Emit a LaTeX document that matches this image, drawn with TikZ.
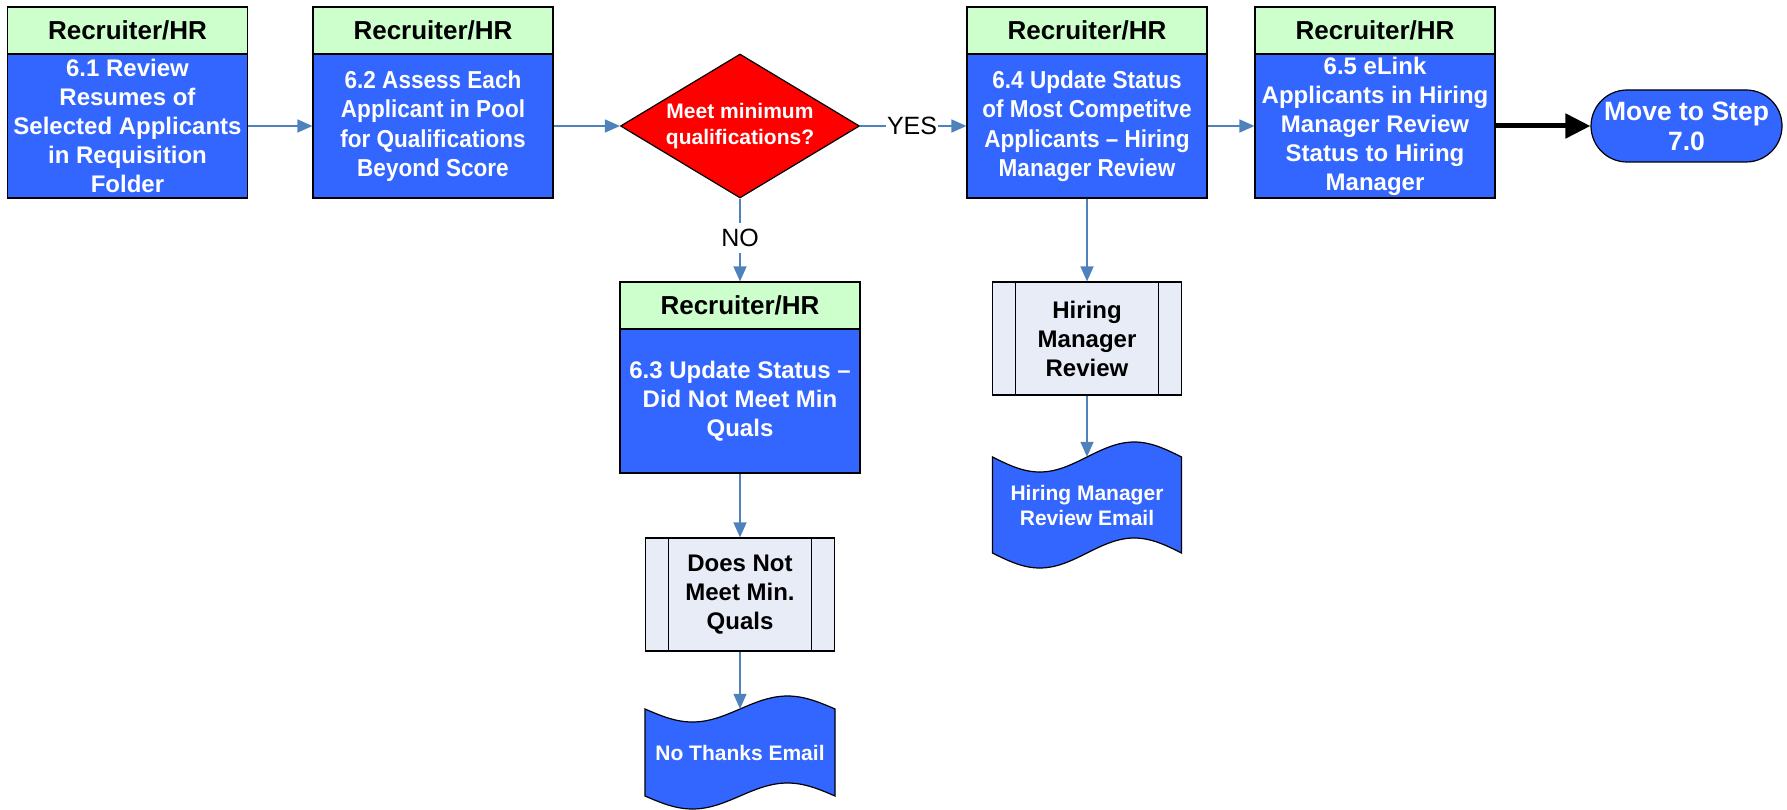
\documentclass[tikz,border=0pt]{standalone}
\usepackage{fontspec}
\setmainfont{Liberation Sans}
\newfontfamily\narrowsans{Liberation Sans}[FakeStretch=0.92, Ligatures=TeX]
\usetikzlibrary{shapes.geometric,arrows.meta}

\definecolor{hrgreen}{HTML}{CCFFCC}
\definecolor{taskblue}{HTML}{3366FF}
\definecolor{linkblue}{HTML}{4F81BD}
\definecolor{subgrey}{HTML}{E7ECF7}

\begin{document}
\begin{tikzpicture}[x=1pt, y=-1pt,
    role/.style={draw, line width=1.2pt, fill=hrgreen, minimum width=240pt,
      minimum height=47pt, inner sep=0pt, font=\fontsize{26}{30}\selectfont\bfseries},
    task/.style={draw, line width=1.2pt, fill=taskblue, text=white, minimum width=240pt,
      minimum height=144pt, inner sep=0pt, align=center,
      font=\fontsize{24}{29}\selectfont\bfseries},
    narrowtask/.style={task, font=\narrowsans\fontsize{24.5}{29.5}\selectfont\bfseries},
    query/.style={diamond, draw, line width=1.2pt, fill=red, text=white, aspect=1.66,
      minimum width=239pt, minimum height=144pt, inner sep=0pt, align=center,
      font=\fontsize{21}{26}\selectfont\bfseries},
    answer/.style={inner xsep=1pt, inner ysep=6pt, font=\fontsize{25}{28}\selectfont},
    subproc/.style={draw, line width=1.2pt, fill=subgrey, minimum width=189pt,
      minimum height=113pt, inner sep=0pt, align=center,
      font=\fontsize{24}{29}\selectfont\bfseries,
      path picture={
        \draw ([xshift=23pt]path picture bounding box.north west)
          -- ([xshift=23pt]path picture bounding box.south west);
        \draw ([xshift=-23pt]path picture bounding box.north east)
          -- ([xshift=-23pt]path picture bounding box.south east);}},
    mailshape/.style={draw, line width=1.2pt, fill=taskblue},
    mailtext/.style={text=white, minimum width=189pt, inner sep=0pt, align=center,
      font=\fontsize{21}{25}\selectfont\bfseries},
    endstep/.style={draw, line width=1.2pt, fill=taskblue, text=white, rounded corners=36pt,
      minimum width=191pt, minimum height=72pt, inner sep=0pt, align=center,
      font=\fontsize{26.5}{30}\selectfont\bfseries},
    line/.style={draw=linkblue, line width=1.5pt},
    link/.style={line, -{Triangle[length=15pt,width=13pt]}},
    exitlink/.style={draw=black, line width=5pt, -{Triangle[length=25pt,width=24pt]}}]

  \useasboundingbox (0,0) rectangle (1787,810);

  \node[role] (r61) at (127.5,30.5) {Recruiter/HR};
  \node[task] (t61) at (127.5,126) {6.1 Review\\Resumes of\\Selected Applicants\\in Requisition\\Folder};

  \node[role] (r62) at (433,30.5) {Recruiter/HR};
  \node[narrowtask] (t62) at (433,126) {6.2 Assess Each\\Applicant in Pool\\for Qualifications\\Beyond Score};

  \node[query] (dq) at (740,126) {Meet minimum\\qualifications?};
  \node[answer] (yes) at (912,126) {YES};
  \node[answer] (no) at (740,238) {NO};

  \node[role] (r63) at (740,305.5) {Recruiter/HR};
  \node[task] (t63) at (740,401) {6.3 Update Status –\\Did Not Meet Min\\Quals};

  \node[role] (r64) at (1087,30.5) {Recruiter/HR};
  \node[narrowtask] (t64) at (1087,126) {6.4 Update Status\\of Most Competitve\\Applicants – Hiring\\Manager Review};

  \node[role] (r65) at (1375,30.5) {Recruiter/HR};
  \node[task] (t65) at (1375,126) {6.5 eLink\\Applicants in Hiring\\Manager Review\\Status to Hiring\\Manager};

  \node[endstep] (next) at (1686.5,126) {Move to Step\\7.0};

  \node[subproc] (p63) at (740,594.5) {Does Not\\Meet Min.\\Quals};
  \node[subproc] (p64) at (1087,338.5) {Hiring\\Manager\\Review};

  \draw[mailshape] (645,709) sin (692.5,722) cos (740,709) sin (787.5,696) cos (835,709)
    -- (835,796) sin (787.5,783) cos (740,796) sin (692.5,809) cos (645,796) -- cycle;
  \node[mailtext, minimum height=87pt] (m63) at (740,752.5) {No Thanks Email};

  \draw[mailshape] (992.5,457) sin (1039.75,472) cos (1087,457) sin (1134.25,442) cos (1181.5,457)
    -- (1181.5,553) sin (1134.25,538) cos (1087,553) sin (1039.75,568) cos (992.5,553) -- cycle;
  \node[mailtext, minimum height=96pt] (m64) at (1087,505) {Hiring Manager\\Review Email};

  \draw[link] (t61.east) -- (t62.west);
  \draw[link] (t62.east) -- (dq.west);
  \draw[line] (dq.east) -- (yes.west);
  \draw[link] (yes.east) -- (t64.west);
  \draw[line] (dq.south) -- (no.north);
  \draw[link] (no.south) -- (r63.north);
  \draw[link] (t63.south) -- (p63.north);
  \draw[link] (p63.south) -- (m63.north);
  \draw[link] (t64.south) -- (p64.north);
  \draw[link] (p64.south) -- (m64.north);
  \draw[link] (t64.east) -- (t65.west);
  \draw[exitlink] (t65.east) -- (next.west);
\end{tikzpicture}
\end{document}
